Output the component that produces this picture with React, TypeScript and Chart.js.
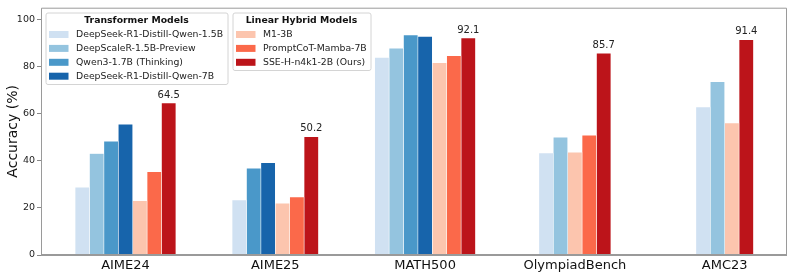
import React, { useEffect, useRef } from "react";
import { Chart, registerables } from "chart.js";

Chart.register(...registerables);

const categories = ["AIME24", "AIME25", "MATH500", "OlympiadBench", "AMC23"];
const transformerModels = [
  "DeepSeek-R1-Distill-Qwen-1.5B",
  "DeepScaleR-1.5B-Preview",
  "Qwen3-1.7B (Thinking)",
  "DeepSeek-R1-Distill-Qwen-7B",
];
const hybridModels = ["M1-3B", "PromptCoT-Mamba-7B", "SSE-H-n4k1-2B (Ours)"];

const dsQwen15 = [28.8, 23.4, 83.9, 43.3, 62.9];
const deepScaleR = [43.1, null, 87.8, 50.0, 73.6];
const qwen3 = [48.3, 36.8, 93.4, null, null];
const dsQwen7 = [55.5, 39.2, 92.8, null, null];
const m1 = [23.0, 22.0, 81.6, 43.6, 56.1];
const promptCoT = [35.4, 24.6, 84.6, 50.8, null];
const sseH = [64.5, 50.2, 92.1, 85.7, 91.4];

const yTicks = [0, 20, 40, 60, 80, 100];

const blueColors = ["#d0e1f2", "#94c4df", "#4a98c9", "#1764ab"];
const redColors = ["#fcc5ae", "#fb694a", "#bc141a"];

const FONT = "DejaVu Sans";

function toPoints(arr: (number | null)[]) {
  return arr.map((v, i) => ({ x: i, y: v }));
}

const framePlugin = {
  id: "frame",
  afterDraw(chart: any) {
    const { ctx, chartArea: a } = chart;
    ctx.save();
    ctx.strokeStyle = "#9a9a9a";
    ctx.lineWidth = 1;
    ctx.beginPath();
    ctx.moveTo(a.left + 0.5, a.bottom);
    ctx.lineTo(a.left + 0.5, a.top + 0.5);
    ctx.lineTo(a.right - 0.5, a.top + 0.5);
    ctx.lineTo(a.right - 0.5, a.bottom);
    ctx.stroke();
    ctx.lineWidth = 2;
    ctx.beginPath();
    ctx.moveTo(a.left, a.bottom);
    ctx.lineTo(a.right, a.bottom);
    ctx.stroke();
    ctx.restore();
  },
};

const valuePlugin = {
  id: "values",
  afterDatasetsDraw(chart: any) {
    const { ctx } = chart;
    const idx = chart.data.datasets.length - 1;
    const meta = chart.getDatasetMeta(idx);
    const data = chart.data.datasets[idx].data;
    ctx.save();
    ctx.font = `10px "${FONT}"`;
    ctx.fillStyle = "#222";
    ctx.textAlign = "center";
    ctx.textBaseline = "bottom";
    meta.data.forEach((el: any, i: number) => {
      const v = data[i].y;
      if (v == null) return;
      ctx.fillText(v.toFixed(1), el.x, el.y - 3);
    });
    ctx.restore();
  },
};

function drawLegendBox(
  ctx: CanvasRenderingContext2D,
  x: number,
  y: number,
  w: number,
  h: number,
  title: string,
  items: { label: string; color: string }[]
) {
  ctx.save();
  ctx.fillStyle = "rgba(255,255,255,0.85)";
  ctx.strokeStyle = "#d4d4d4";
  ctx.lineWidth = 1;
  ctx.beginPath();
  (ctx as any).roundRect(x + 0.5, y + 0.5, w, h, 2);
  ctx.fill();
  ctx.stroke();
  ctx.fillStyle = "#111";
  ctx.font = `bold 9.3px "${FONT}"`;
  ctx.textAlign = "center";
  ctx.textBaseline = "middle";
  ctx.fillText(title, x + w / 2, y + 8.5);
  ctx.font = `9.3px "${FONT}"`;
  ctx.textAlign = "left";
  items.forEach((it, i) => {
    const cy = y + 22 + i * 13.9;
    ctx.fillStyle = it.color;
    ctx.fillRect(x + 3.5, cy - 3.5, 19.5, 7);
    ctx.fillStyle = "#222";
    ctx.fillText(it.label, x + 30.5, cy + 0.5);
  });
  ctx.restore();
}

const legendPlugin = {
  id: "groupLegends",
  afterDraw(chart: any) {
    const { ctx } = chart;
    const ds = chart.data.datasets;
    const t = transformerModels.map((label, i) => ({ label, color: ds[i].backgroundColor }));
    const h = hybridModels.map((label, i) => ({
      label,
      color: ds[transformerModels.length + i].backgroundColor,
    }));
    drawLegendBox(ctx, 45.5, 12.5, 182, 71.5, "Transformer Models", t);
    drawLegendBox(ctx, 232.5, 12.5, 138, 57.5, "Linear Hybrid Models", h);
  },
};

export default function App() {
  const ref = useRef<HTMLCanvasElement | null>(null);

  useEffect(() => {
    if (!ref.current) return;
    const series = [dsQwen15, deepScaleR, qwen3, dsQwen7, m1, promptCoT, sseH];
    const labels = [...transformerModels, ...hybridModels];
    const colors = [...blueColors, ...redColors];
    const chart = new Chart(ref.current, {
      type: "bar",
      data: {
        datasets: series.map((s, i) => ({
          label: labels[i],
          data: toPoints(s) as any,
          backgroundColor: colors[i],
          borderColor: "rgba(255,255,255,0.55)",
          borderWidth: 0.6,
          barThickness: 14.4,
          skipNull: true,
        })),
      },
      options: {
        animation: false,
        responsive: true,
        maintainAspectRatio: false,
        events: [],
        layout: { padding: { left: 0, right: 6, top: 5, bottom: 0 } },
        plugins: {
          legend: { display: false },
          tooltip: { enabled: false },
        },
        scales: {
          x: {
            type: "linear",
            min: -0.564,
            max: 4.416,
            offset: false,
            grid: { display: false, drawTicks: false },
            border: { display: false },
            afterBuildTicks: (axis: any) => {
              axis.ticks = categories.map((_, i) => ({ value: i }));
            },
            afterFit: (scale: any) => {
              scale.height = 23;
            },
            ticks: {
              autoSkip: false,
              maxRotation: 0,
              padding: 3,
              color: "#111",
              font: { family: FONT, size: 13 },
              callback: (v: any) => categories[Math.round(Number(v))] ?? "",
            },
          },
          y: {
            min: 0,
            max: 105,
            afterBuildTicks: (axis: any) => {
              axis.ticks = yTicks.map((v) => ({ value: v }));
            },
            afterFit: (scale: any) => {
              scale.width = 41;
            },
            grid: {
              display: true,
              drawOnChartArea: false,
              drawTicks: true,
              tickLength: 4,
              color: "#888",
            },
            border: { display: false },
            ticks: {
              padding: 2,
              color: "#222",
              font: { family: FONT, size: 9.5 },
            },
            title: {
              display: true,
              text: "Accuracy (%)",
              color: "#111",
              font: { family: FONT, size: 14 },
              padding: { top: 5, bottom: 0 },
            },
          },
        },
      },
      plugins: [framePlugin, valuePlugin, legendPlugin],
    });
    return () => chart.destroy();
  }, []);

  return (
    <div style={{ position: "absolute", left: 0, top: 0, width: 793, height: 278, background: "#fff" }}>
      <canvas ref={ref} />
    </div>
  );
}
